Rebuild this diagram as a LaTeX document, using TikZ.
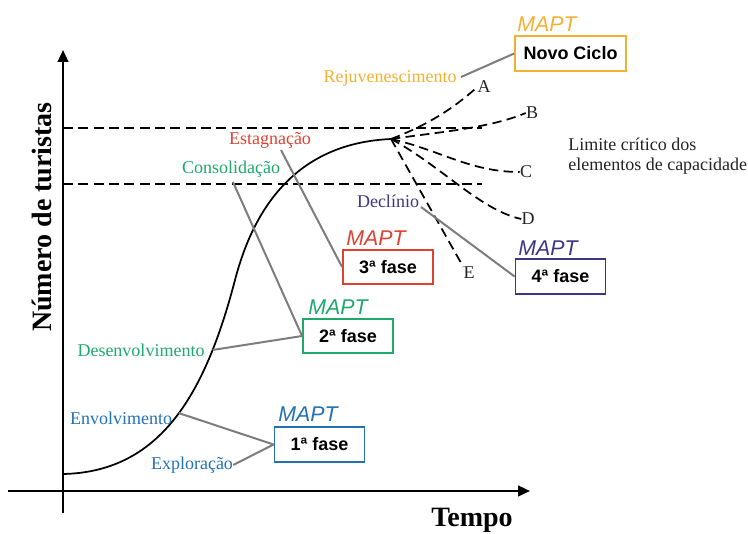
\documentclass[tikz,border=0pt]{standalone}
\usepackage{fontspec}
\setmainfont{Liberation Serif}
\newfontfamily\hv{Liberation Sans}
\usetikzlibrary{arrows.meta}
\definecolor{cOrange}{RGB}{244,176,48}
\definecolor{cRed}{RGB}{222,66,48}
\definecolor{cGreen}{RGB}{30,168,108}
\definecolor{cBlue}{RGB}{34,112,182}
\definecolor{cPurple}{RGB}{62,52,132}
\definecolor{cLead}{RGB}{125,125,125}
\definecolor{cInk}{RGB}{35,35,35}
\tikzset{
  axis/.style={line width=1.7pt,-{Triangle[length=9pt,width=8pt]}},
  limit/.style={line width=1.4pt,dash pattern=on 7.5pt off 4pt},
  branch/.style={line width=1.3pt,dash pattern=on 7pt off 4pt},
  lead/.style={line width=1.5pt,cLead},
  phase/.style={font=\fontsize{13.5}{15}\selectfont,inner sep=0pt},
  letter/.style={font=\fontsize{13.5}{15}\selectfont,text=cInk,inner sep=0pt},
  fasebox/.style={draw,line width=1.4pt,minimum width=67.5pt,minimum height=26pt,inner sep=0pt,
    font=\hv\bfseries\fontsize{13.5}{15}\selectfont},
  mapt/.style={font=\hv\itshape\fontsize{16}{18}\selectfont,inner sep=0pt},
  axlabel/.style={font=\bfseries\fontsize{21}{24}\selectfont,inner sep=0pt}
}
\begin{document}
\begin{tikzpicture}[x=0.75pt,y=-0.75pt]
\useasboundingbox (0,0) rectangle (748,534);

% axes
\coordinate (ytop) at (63,50);
\coordinate (ybot) at (63,513);
\coordinate (xleft) at (8,491);
\coordinate (xright) at (530,491);
\draw[axis] (ybot) -- (ytop);
\draw[axis] (xleft) -- (xright);
\node[axlabel,rotate=90] (ylab) at (42,217) {Número de turistas};
\node[axlabel] (xlab) at (472,520) {Tempo};

% capacity limits
\coordinate (l1a) at (63,128);
\coordinate (l1b) at (482,128);
\coordinate (l2a) at (63,184);
\coordinate (l2b) at (482,184);
\draw[limit] (l1a) -- (l1b);
\draw[limit] (l2a) -- (l2b);

% life-cycle curve (two cubic pieces meeting at the inflection)
\coordinate (peak) at (391,139);
\draw[line width=1.3pt] (63,474)
  .. controls (160,472) and (205,395) .. coordinate[pos=0.53] (cEnv) coordinate[pos=0.78] (cDes) (235,280)
  .. controls (255,203) and (300,143) .. (peak);

% scenario branches
\node[letter] (lA) at (484,87) {A};
\node[letter] (lB) at (532,113) {B};
\node[letter] (lC) at (526,172) {C};
\node[letter] (lD) at (528,219) {D};
\node[letter] (lE) at (469,273) {E};
\draw[branch] (peak) .. controls (425,126) and (452,110) .. (lA.west);
\draw[branch] (peak) .. controls (440,132) and (490,128) .. (lB.west);
\draw[branch] (peak) .. controls (440,150) and (470,172) .. (lC.west);
\draw[branch] (peak) .. controls (440,165) and (480,210) .. (lD.west);
\draw[branch] (peak) -- (lE.north west);

\node[letter,anchor=west,align=left,font=\fontsize{13.5}{14.5}\selectfont] (lim) at (568,156)
  {Limite crítico dos\\elementos de capacidade};

% phase boxes
\node[fasebox,draw=cOrange,minimum width=83pt] (bN) at (570.5,53.5) {Novo Ciclo};
\node[fasebox,draw=cRed] (b3) at (388,267) {3ª fase};
\node[fasebox,draw=cGreen,minimum height=25.5pt] (b2) at (348,336) {2ª fase};
\node[fasebox,draw=cBlue] (b1) at (319.5,444.5) {1ª fase};
\node[fasebox,draw=cPurple] (b4) at (560.5,276.5) {4ª fase};

\node[mapt,text=cOrange] (mN) at (547,24) {MAPT};
\node[mapt,text=cRed] (m3) at (376,238) {MAPT};
\node[mapt,text=cGreen] (m2) at (338,307) {MAPT};
\node[mapt,text=cBlue] (m1) at (308,414) {MAPT};
\node[mapt,text=cPurple] (m4) at (548,248) {MAPT};

% phase labels
\node[phase,text=cOrange] (rej) at (390,78) {Rejuvenescimento};
\node[phase,text=cRed] (est) at (270,140) {Estagnação};
\node[phase,text=cGreen] (con) at (231,169) {Consolidação};
\node[phase,text=cPurple] (dec) at (388,201) {Declínio};
\node[phase,text=cGreen] (des) at (141,350) {Desenvolvimento};
\node[phase,text=cBlue] (env) at (121,418) {Envolvimento};
\node[phase,text=cBlue] (exp) at (192,465) {Exploração};

% leader lines
\coordinate (estT) at (281,150);
\coordinate (conT) at (233,182);
\coordinate (decT) at (421,207);
\coordinate (rejT) at (461,77);
\draw[lead] (rejT) -- (bN.west);
\draw[lead] (estT) -- (b3.west);
\draw[lead] (conT) -- (b2.west);
\draw[lead] (cDes) -- (b2.west);
\draw[lead] (decT) -- (b4.west);
\draw[lead] (cEnv) -- (b1.west);
\draw[lead] (exp.east) -- (b1.west);
\end{tikzpicture}
\end{document}
